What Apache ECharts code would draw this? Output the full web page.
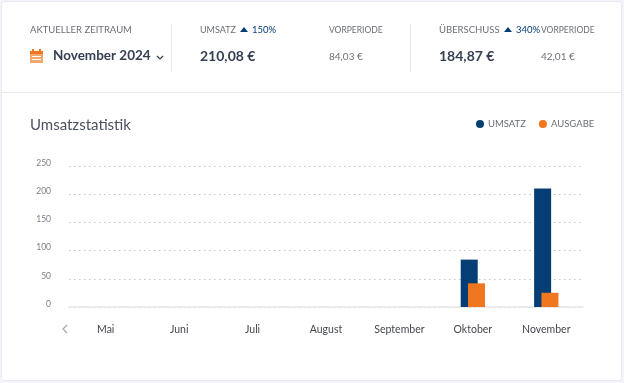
<!DOCTYPE html>
<html>
<head>
<meta charset="utf-8" />
<title>Umsatzstatistik</title>
<script src="https://cdn.jsdelivr.net/npm/echarts@6/dist/echarts.min.js"></script>
<style type="text/css">
html, body { margin: 0; padding: 0; background: #f3f4fa; }
#echarts { width: 624px; height: 383px; }
</style>
</head>
<body>
<div id="echarts"></div>
<script type="text/javascript">
var months = ['Mai', 'Juni', 'Juli', 'August', 'September', 'Oktober', 'November'];
var umsatz = [0, 0, 0, 0, 0, 84.03, 210.08];
var ausgabe = [0, 0, 0, 0, 0, 42.01, 25.21];
var yTicks = {min: 0, max: 250, interval: 50};

var FONT = 'Lato, sans-serif';
var NAVY = '#053d75';
var ORANGE = '#f0761f';
var DARK = '#353f53';
var GREY = '#6b6f76';

var myChart = echarts.init(document.getElementById('echarts'));

function label(x, y, text, size, color, weight) {
    return {
        type: 'text',
        x: x,
        y: y,
        silent: true,
        style: {
            text: text,
            fill: color,
            font: (weight || 'normal') + ' ' + size + 'px ' + FONT,
            verticalAlign: 'middle'
        }
    };
}

function box(x, y, w, h, fill, stroke) {
    return {
        type: 'rect',
        silent: true,
        shape: {x: x, y: y, width: w, height: h},
        style: {fill: fill, stroke: stroke || null}
    };
}

function triangle(x, y) {
    return {
        type: 'polygon',
        silent: true,
        shape: {points: [[x, y + 5], [x + 8, y + 5], [x + 4, y]]},
        style: {fill: NAVY}
    };
}

function chevron(points, color) {
    return {
        type: 'polyline',
        silent: true,
        shape: {points: points},
        style: {stroke: color, lineWidth: 1.2, fill: null}
    };
}

var elements = [
    // card and header separators
    {type: 'rect', silent: true, z: -10, shape: {x: 1.5, y: 1.5, width: 620, height: 379, r: 3},
        style: {fill: '#fff', stroke: '#e8e9f2'}},
    box(2, 92, 620, 1, '#e9eaee'),
    box(171, 24, 1, 48, '#e9eaee'),
    box(410, 24, 1, 48, '#e9eaee'),

    // calendar icon
    box(30, 51, 13, 12, '#f4a76b'),
    box(30, 51, 13, 3, ORANGE),
    box(32, 49, 2, 3, ORANGE),
    box(39, 49, 2, 3, ORANGE),
    box(32, 56, 9, 1, '#fff'),
    box(32, 59, 9, 1, '#fff'),

    label(30, 30, 'AKTUELLER ZEITRAUM', 9.5, GREY),
    label(53, 56, 'November 2024', 13.5, DARK, 'bold'),
    chevron([[157, 56], [160, 59], [163, 56]], DARK),

    label(200, 30, 'UMSATZ', 9, GREY),
    triangle(240, 27),
    label(252, 30, '150%', 9.5, NAVY),
    label(200, 56, '210,08 €', 14, DARK, 'bold'),

    label(329, 30, 'VORPERIODE', 8.5, GREY),
    label(329, 57, '84,03 €', 10, GREY),

    label(439, 30, 'ÜBERSCHUSS', 9.5, GREY),
    triangle(504, 27),
    label(516, 30, '340%', 9.5, NAVY),
    label(541, 30, 'VORPERIODE', 8.5, GREY),
    label(439, 56, '184,87 €', 14, DARK, 'bold'),
    label(541, 57, '42,01 €', 10, GREY),

    label(30, 125, 'Umsatzstatistik', 15, '#4a5160'),

    // pager arrow left of the axis
    chevron([[67, 325], [63, 329], [67, 333]], '#a5a8ae')
];

var option = {
    animation: false,
    textStyle: {fontFamily: FONT},
    graphic: {elements: elements},
    legend: {
        left: 471,
        top: 114,
        icon: 'circle',
        itemWidth: 8,
        itemHeight: 8,
        itemGap: 13,
        selectedMode: false,
        textStyle: {fontSize: 9.5, color: GREY, padding: [0, 0, 0, -1]},
        data: ['UMSATZ', 'AUSGABE']
    },
    grid: {left: 69, right: 41, top: 166, bottom: 76},
    xAxis: {
        type: 'category',
        data: months,
        axisTick: {show: false},
        axisLine: {lineStyle: {color: '#e6e6e6', width: 1.5}},
        axisLabel: {fontSize: 10.5, color: '#43474e', margin: 17}
    },
    yAxis: {
        type: 'value',
        min: yTicks.min,
        max: yTicks.max,
        interval: yTicks.interval,
        axisLine: {show: false},
        axisTick: {show: false},
        axisLabel: {fontSize: 8.5, color: '#7a7d83', margin: 18, verticalAlign: 'bottom', lineHeight: 6},
        splitLine: {lineStyle: {type: [1.5, 3.5], color: '#c2c4c8', width: 1}}
    },
    series: [
        {
            name: 'UMSATZ',
            type: 'bar',
            barWidth: 17,
            barGap: '-57%',
            itemStyle: {color: NAVY},
            data: umsatz
        },
        {
            name: 'AUSGABE',
            type: 'bar',
            barWidth: 17,
            itemStyle: {color: ORANGE},
            data: ausgabe
        }
    ]
};

myChart.setOption(option);
</script>
</body>
</html>
